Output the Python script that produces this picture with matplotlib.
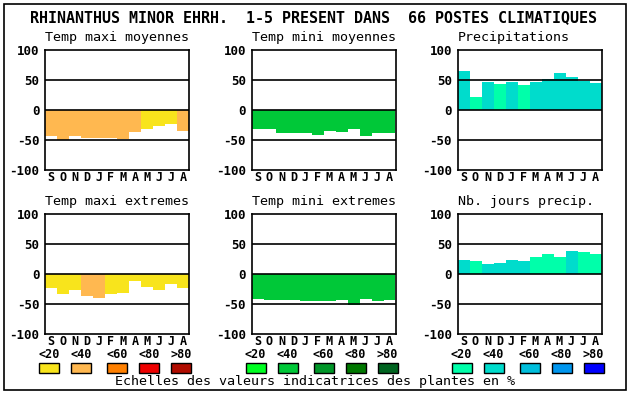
import matplotlib
matplotlib.use("Agg")
import matplotlib.pyplot as plt
from matplotlib.patches import Rectangle

W, H = 630, 394
months = ["S", "O", "N", "D", "J", "F", "M", "A", "M", "J", "J", "A"]

title = "RHINANTHUS MINOR EHRH.  1-5 PRESENT DANS  66 POSTES CLIMATIQUES"
panel_titles = ["Temp maxi moyennes", "Temp mini moyennes", "Precipitations",
                "Temp maxi extremes", "Temp mini extremes", "Nb. jours precip."]

# palettes (classes <20 <40 <60 <80 >80)
temp_max_colors = ["#f8e41c", "#ffb850", "#ff8000", "#ee0000", "#b00c00"]
temp_min_colors = ["#00ff22", "#00c838", "#009628", "#007800", "#006420"]
precip_colors = ["#00ffaa", "#00dccc", "#00bedc", "#0096ee", "#0000ff"]
class_labels = ["<20", "<40", "<60", "<80", ">80"]

# values and class index per month
tmax_moy = [-43, -50, -44, -46, -46, -46, -48, -36, -31, -26, -24, -35]
tmax_moy_cls = [1, 1, 1, 1, 1, 1, 1, 1, 0, 0, 0, 1]
tmin_moy = [-31, -31, -38, -38, -38, -41, -35, -36, -31, -43, -38, -38]
tmin_moy_cls = [1] * 12
precip = [65, 22, 47, 43, 47, 42, 47, 52, 62, 55, 49, 45]
precip_cls = [1, 0, 1, 0, 1, 0, 1, 1, 1, 1, 1, 1]
tmax_ext = [-24, -34, -27, -37, -40, -34, -31, -12, -22, -27, -16, -24]
tmax_ext_cls = [0, 0, 0, 1, 1, 0, 0, 0, 0, 0, 0, 0]
tmin_ext = [-42, -44, -44, -44, -45, -45, -45, -44, -52, -42, -45, -44]
tmin_ext_cls = [1] * 12
njours = [24, 21, 16, 18, 23, 21, 28, 34, 28, 38, 36, 34]
njours_cls = [1, 0, 1, 1, 1, 1, 0, 0, 0, 1, 0, 0]

footer = "Echelles des valeurs indicatrices des plantes en %"

panels = [
    (tmax_moy, tmax_moy_cls, temp_max_colors),
    (tmin_moy, tmin_moy_cls, temp_min_colors),
    (precip, precip_cls, precip_colors),
    (tmax_ext, tmax_ext_cls, temp_max_colors),
    (tmin_ext, tmin_ext_cls, temp_min_colors),
    (njours, njours_cls, precip_colors),
]

MONO = "DejaVu Sans Mono"
fig = plt.figure(figsize=(W / 100, H / 100), dpi=100)
fig.patch.set_facecolor("white")

def fx(x):
    return x / W

def fy(y):
    return 1 - y / H

# outer frame
fig.patches.append(Rectangle((fx(4), fy(390)), fx(622), 386 / H, transform=fig.transFigure,
                             fill=False, edgecolor="black", linewidth=1.2))

fig.text(fx(314), fy(18), title, family=MONO, weight="bold", fontsize=10.8,
         ha="center", va="center")

lefts = [45, 251.5, 457.5]
tops = [50, 214]
pw, ph = 144, 120

for i, (vals, cls, pal) in enumerate(panels):
    r, c = divmod(i, 3)
    L, T = lefts[c], tops[r]
    ax = fig.add_axes([fx(L), fy(T + ph), pw / W, ph / H])
    ax.bar(range(12), vals, width=1.0, color=[pal[k] for k in cls], linewidth=0, zorder=1)
    for yv in (-50, 0, 50):
        ax.axhline(yv, color="black", linewidth=1.2, zorder=3)
    ax.set_xlim(-0.5, 11.5)
    ax.set_ylim(-100, 100)
    ax.set_xticks(range(12))
    ax.set_xticklabels(months, family=MONO, weight="bold", fontsize=8.5)
    ax.set_yticks([-100, -50, 0, 50, 100])
    ax.set_yticklabels(["-100", "-50", "0", "50", "100"], family=MONO, weight="bold", fontsize=9)
    ax.tick_params(axis="x", length=0, pad=1)
    ax.tick_params(axis="y", length=0, pad=4)
    for s in ax.spines.values():
        s.set_linewidth(1.2)
    fig.text(fx(L), fy(T - 12), panel_titles[i], family=MONO, fontsize=9.6,
             ha="left", va="center")

# legends
offsets = [-6, 26, 62, 94, 126]
leg_pals = [temp_max_colors, temp_min_colors, precip_colors]
for c in range(3):
    for k in range(5):
        x0 = lefts[c] + offsets[k]
        fig.patches.append(Rectangle((fx(x0), fy(373)), 20 / W, 10 / H, transform=fig.transFigure,
                                     facecolor=leg_pals[c][k], edgecolor="black", linewidth=1))
        fig.text(fx(x0 + 10), fy(355), class_labels[k], family=MONO, weight="bold",
                 fontsize=8.5, ha="center", va="center")

fig.text(fx(315), fy(382), footer, family=MONO, fontsize=9.6, ha="center", va="center")

fig.savefig("out.png", dpi=100)
